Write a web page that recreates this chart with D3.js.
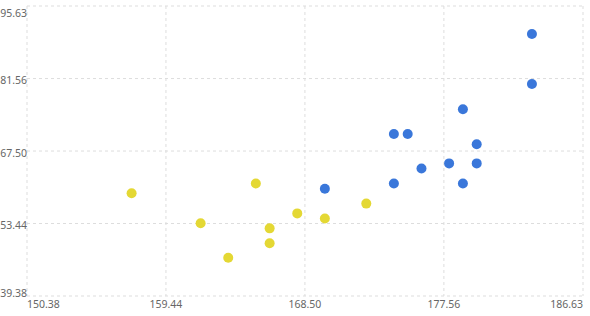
<!DOCTYPE html>
<html>
<head>
<meta charset="utf-8">
<script src="https://cdn.jsdelivr.net/npm/d3@7"></script>
<style>
  body { margin: 0; background: #fff; }
  text { font-family: "Noto Sans", "Open Sans", sans-serif; font-size: 10.5px; fill: #666; }
</style>
</head>
<body>
<script>
// tick values on both axes
var xTicks = [150.38, 159.44, 168.50, 177.56, 186.63];
var yTicks = [39.38, 53.44, 67.50, 81.56, 95.63];

// yellow group
var yellowX = [157.2, 161.7, 163.5, 165.3, 166.2, 166.2, 168.0, 169.8, 172.5];
var yellowY = [59.3, 53.5, 46.8, 61.2, 52.5, 49.6, 55.4, 54.4, 57.3];

// blue group
var blueX = [169.8, 174.3, 176.1, 177.9, 178.8, 179.7, 174.3, 175.2, 178.8, 179.7, 183.3, 183.3];
var blueY = [60.2, 61.2, 64.1, 65.1, 61.2, 65.1, 70.8, 70.8, 75.6, 68.8, 80.5, 90.2];

var width = 590, height = 316;
var plotLeft = 27, plotRight = 583, plotTop = 6, plotBottom = 296;

var svg = d3.select("body").append("svg")
    .attr("width", width)
    .attr("height", height);

var x = d3.scaleLinear().domain([xTicks[0], xTicks[4]]).range([plotLeft, plotRight]);
var y = d3.scaleLinear().domain([yTicks[0], yTicks[4]]).range([plotBottom, plotTop]);

//grid lines
svg.selectAll(".hgrid").data(yTicks).enter().append("line")
    .attr("x1", plotLeft).attr("x2", plotRight)
    .attr("y1", function(d){ return y(d); }).attr("y2", function(d){ return y(d); })
    .attr("stroke", "#ddd").attr("stroke-dasharray", "3,3");

svg.selectAll(".vgrid").data(xTicks).enter().append("line")
    .attr("y1", plotTop).attr("y2", plotBottom)
    .attr("x1", function(d){ return x(d); }).attr("x2", function(d){ return x(d); })
    .attr("stroke", "#ddd").attr("stroke-dasharray", "3,3");

//y labels, the end ones pushed inside
svg.selectAll(".ylab").data(yTicks).enter().append("text")
    .attr("x", plotLeft)
    .attr("y", function(d, i){
        var p = y(d) + 2;
        if (i == 0) p = y(d) - 3;
        if (i == yTicks.length - 1) p = y(d) + 7;
        return p;
    })
    .attr("dy", "0.35em")
    .attr("text-anchor", "end")
    .text(function(d){ return d.toFixed(2); });

//x labels
svg.selectAll(".xlab").data(xTicks).enter().append("text")
    .attr("x", function(d){ return x(d); })
    .attr("y", plotBottom + 8)
    .attr("dy", "0.35em")
    .attr("text-anchor", function(d, i){
        return i == 0 ? "start" : (i == xTicks.length - 1 ? "end" : "middle");
    })
    .text(function(d){ return d.toFixed(2); });

function drawDots(xs, ys, color){
    svg.append("g").selectAll("circle")
        .data(d3.zip(xs, ys)).enter().append("circle")
        .attr("cx", function(d){ return x(d[0]); })
        .attr("cy", function(d){ return y(d[1]); })
        .attr("r", 5)
        .attr("fill", color);
}
drawDots(yellowX, yellowY, "#e4d834");
drawDots(blueX, blueY, "#3a77da");
</script>
</body>
</html>
